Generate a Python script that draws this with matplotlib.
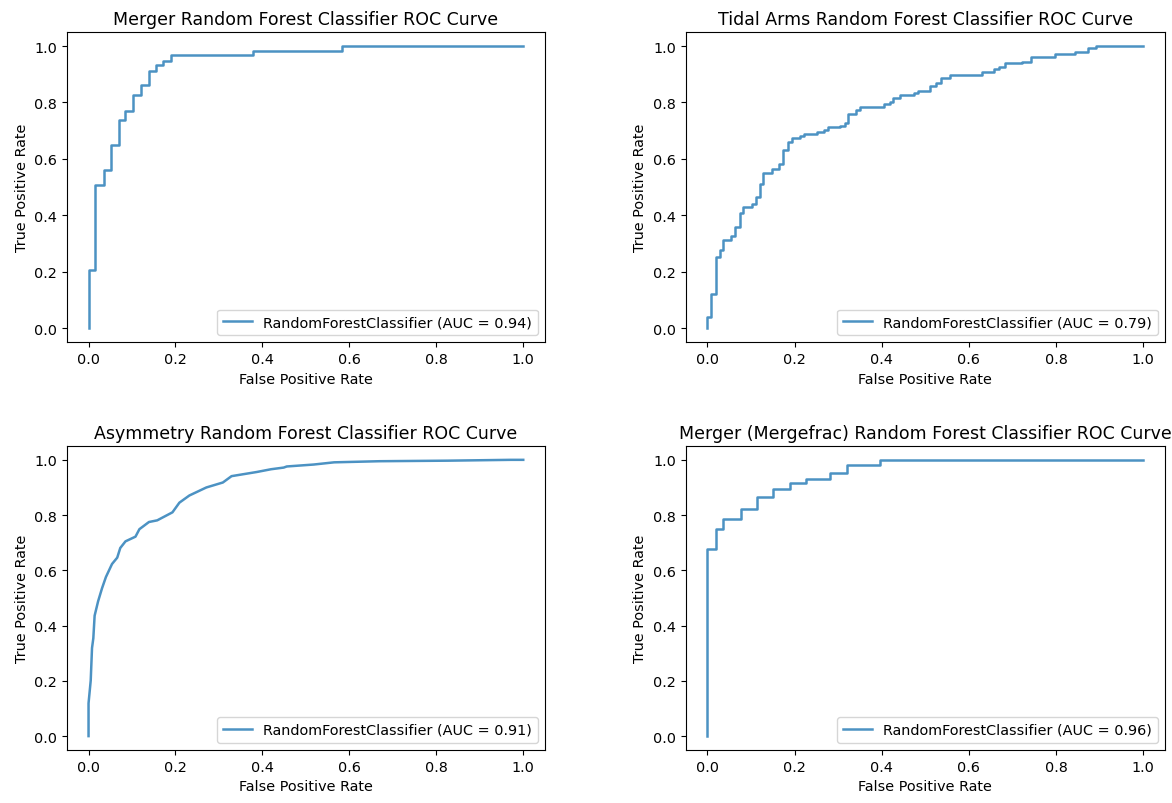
import matplotlib
matplotlib.use("Agg")
import matplotlib.pyplot as plt

plt.rcParams["font.size"] = 10.4

# ROC corner points (fpr, tpr)
merger_fpr = [0.0, 0.0, 0.015, 0.036, 0.052, 0.070, 0.085, 0.103, 0.120, 0.138,
              0.156, 0.172, 0.189, 0.379, 0.582, 1.0]
merger_tpr = [0.0, 0.206, 0.506, 0.561, 0.649, 0.739, 0.771, 0.826, 0.861, 0.912,
              0.932, 0.947, 0.968, 0.981, 1.0, 1.0]

tidal_fpr = [0.0, 0.0, 0.008, 0.019, 0.028, 0.035, 0.054, 0.064, 0.074, 0.081,
             0.102, 0.111, 0.121, 0.127, 0.148, 0.164, 0.173, 0.184, 0.195, 0.213,
             0.221, 0.251, 0.267, 0.277, 0.305, 0.315, 0.323, 0.341, 0.351, 0.406,
             0.418, 0.427, 0.442, 0.473, 0.483, 0.510, 0.525, 0.537, 0.556, 0.630,
             0.657, 0.669, 0.684, 0.723, 0.742, 0.797, 0.843, 0.874, 0.891, 1.0]
tidal_tpr = [0.0, 0.038, 0.120, 0.252, 0.278, 0.312, 0.327, 0.358, 0.410, 0.430,
             0.441, 0.465, 0.511, 0.551, 0.565, 0.582, 0.633, 0.661, 0.673, 0.680,
             0.688, 0.694, 0.701, 0.713, 0.718, 0.727, 0.760, 0.774, 0.785, 0.794,
             0.802, 0.815, 0.826, 0.833, 0.841, 0.857, 0.868, 0.888, 0.898, 0.908,
             0.917, 0.925, 0.939, 0.943, 0.962, 0.971, 0.979, 0.994, 1.0, 1.0]

asym_fpr = [0.0, 0.0, 0.005, 0.008, 0.011, 0.014, 0.022, 0.031, 0.040, 0.054,
            0.066, 0.073, 0.085, 0.108, 0.117, 0.139, 0.158, 0.193, 0.209, 0.232,
            0.271, 0.309, 0.329, 0.360, 0.387, 0.420, 0.449, 0.456, 0.518, 0.565,
            0.669, 0.827, 0.971, 1.0]
asym_tpr = [0.0, 0.119, 0.201, 0.319, 0.354, 0.436, 0.488, 0.535, 0.576, 0.623,
            0.646, 0.681, 0.705, 0.722, 0.749, 0.775, 0.781, 0.810, 0.845, 0.871,
            0.900, 0.918, 0.941, 0.949, 0.956, 0.966, 0.972, 0.976, 0.983, 0.991,
            0.995, 0.997, 1.0, 1.0]

mfrac_fpr = [0.0, 0.0, 0.020, 0.036, 0.076, 0.113, 0.150, 0.190, 0.227, 0.282,
             0.320, 0.396, 1.0]
mfrac_tpr = [0.0, 0.679, 0.750, 0.786, 0.821, 0.866, 0.896, 0.916, 0.931, 0.951,
             0.982, 1.0, 1.0]

titles = ["Merger Random Forest Classifier ROC Curve",
          "Tidal Arms Random Forest Classifier ROC Curve",
          "Asymmetry Random Forest Classifier ROC Curve",
          "Merger (Mergefrac) Random Forest Classifier ROC Curve"]
aucs = [0.94, 0.79, 0.91, 0.96]

fig = plt.figure(figsize=(11.72, 8.04), dpi=100)
boxes = [[0.057, 0.573, 0.408, 0.386],
         [0.585, 0.573, 0.409, 0.386],
         [0.057, 0.066, 0.408, 0.378],
         [0.585, 0.066, 0.409, 0.378]]

series = [(merger_fpr, merger_tpr, "steps-post"),
          (tidal_fpr, tidal_tpr, "steps-post"),
          (asym_fpr, asym_tpr, "default"),
          (mfrac_fpr, mfrac_tpr, "steps-post")]

for box, (fpr, tpr, ds), title, auc in zip(boxes, series, titles, aucs):
    ax = fig.add_axes(box)
    ax.plot(fpr, tpr, drawstyle=ds, color="C0", alpha=0.8, lw=1.8,
            label="RandomForestClassifier (AUC = %.2f)" % auc)
    ax.set_xlabel("False Positive Rate")
    ax.set_ylabel("True Positive Rate")
    ax.set_title(title, fontsize=12.5)
    ax.legend(loc="lower right")

plt.savefig("out.png")
